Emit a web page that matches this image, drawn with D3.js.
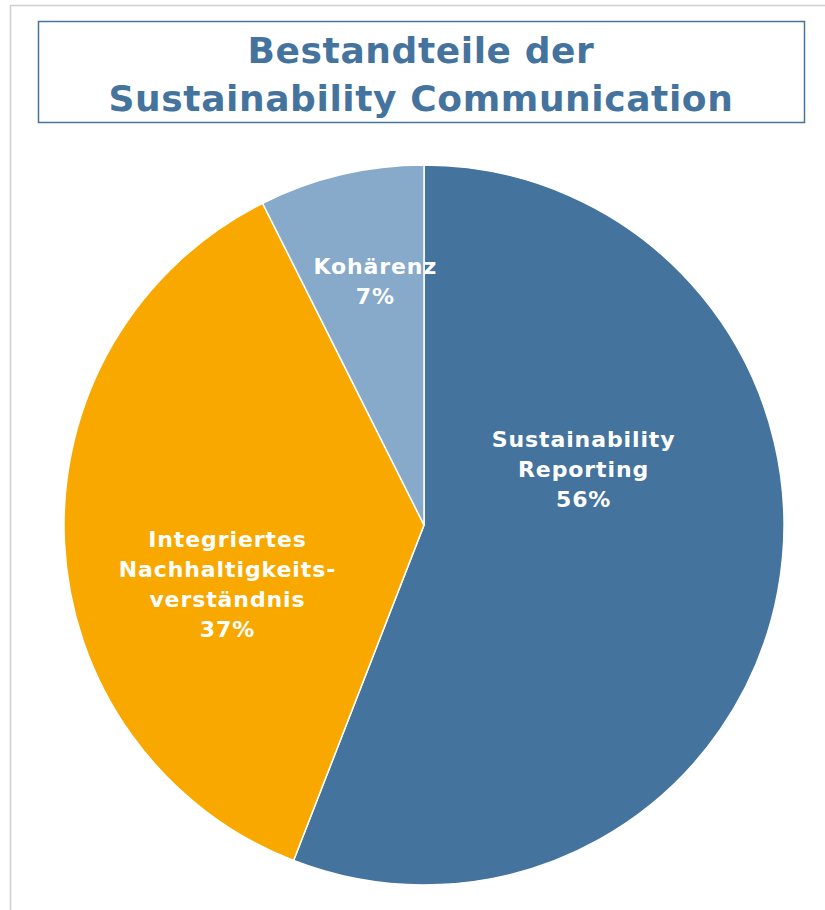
<!DOCTYPE html>
<meta charset="UTF-8">
<html lang="de">
<head><link rel="icon" href="data:,"></head>
<style>
body {
  margin: 0;
  background: #ffffff;
}
svg text {
  font-family: "DejaVu Sans", Verdana, sans-serif;
  font-weight: bold;
}
</style>
<script src="https://cdn.jsdelivr.net/npm/d3@7/dist/d3.min.js"></script>
<body>
  <svg id="view"></svg>
</body>
<script>
const viewDims = { width: 825, height: 910 };

// chart data
const titleLines = ["Bestandteile der", "Sustainability Communication"];
const categories = [
  ["Sustainability", "Reporting"],
  ["Integriertes", "Nachhaltigkeits-", "verständnis"],
  ["Kohärenz"]
];
const values = [55.9, 36.7, 7.4];
const shownPct = ["56%", "37%", "7%"];
const colours = ["#44739e", "#f9a800", "#87a9ca"];

const svg = d3.select("svg#view")
  .attr("width", viewDims.width)
  .attr("height", viewDims.height);

// outer frame
svg.append("path")
  .attr("d", "M10.5,912 V5.5 H830")
  .attr("fill", "none")
  .attr("stroke", "#d0d0d0")
  .attr("stroke-width", 1.5);

// title box
svg.append("rect")
  .attr("x", 38.5).attr("y", 21.5)
  .attr("width", 766).attr("height", 101)
  .attr("fill", "#ffffff")
  .attr("stroke", "#44739e")
  .attr("stroke-width", 1.5);

svg.append("g")
  .selectAll("text")
  .data(titleLines)
  .enter()
  .append("text")
  .attr("x", 421)
  .attr("y", (d, i) => 63 + i * 48)
  .attr("text-anchor", "middle")
  .attr("font-size", "36px")
  .attr("letter-spacing", "0.6px")
  .attr("fill", "#44739e")
  .text(d => d);

// pie
const cx = 424, cy = 525, radius = 360;
const pie = d3.pie().sort(null).value(d => d)(values);
const arc = d3.arc().innerRadius(0).outerRadius(radius);

const g = svg.append("g").attr("transform", `translate(${cx},${cy})`);

g.selectAll("path")
  .data(pie)
  .enter()
  .append("path")
  .attr("d", arc)
  .attr("fill", (d, i) => colours[i])
  .attr("stroke", "#ffffff")
  .attr("stroke-width", 1.5);

// label placement: distance from centre (fraction of radius) and
// angular shift (degrees) from the slice's mid angle
const labelR = [0.47, 0.57, 0.69];
const labelShift = [-30, -14, 2];
const lineH = 30;

pie.forEach((d, i) => {
  const lines = [...categories[i], shownPct[i]];
  const mid = (d.startAngle + d.endAngle) / 2 + labelShift[i] * Math.PI / 180;
  const r = radius * labelR[i];
  const lx = Math.sin(mid) * r;
  const ly = -Math.cos(mid) * r;
  const t = g.append("text")
    .attr("text-anchor", "middle")
    .attr("font-size", "22px")
    .attr("letter-spacing", "0.9px")
    .attr("fill", "#ffffff");
  lines.forEach((s, j) => {
    t.append("tspan")
      .attr("x", lx)
      .attr("y", ly + (j - (lines.length - 1) / 2) * lineH + 8)
      .text(s);
  });
});
</script>
</html>
